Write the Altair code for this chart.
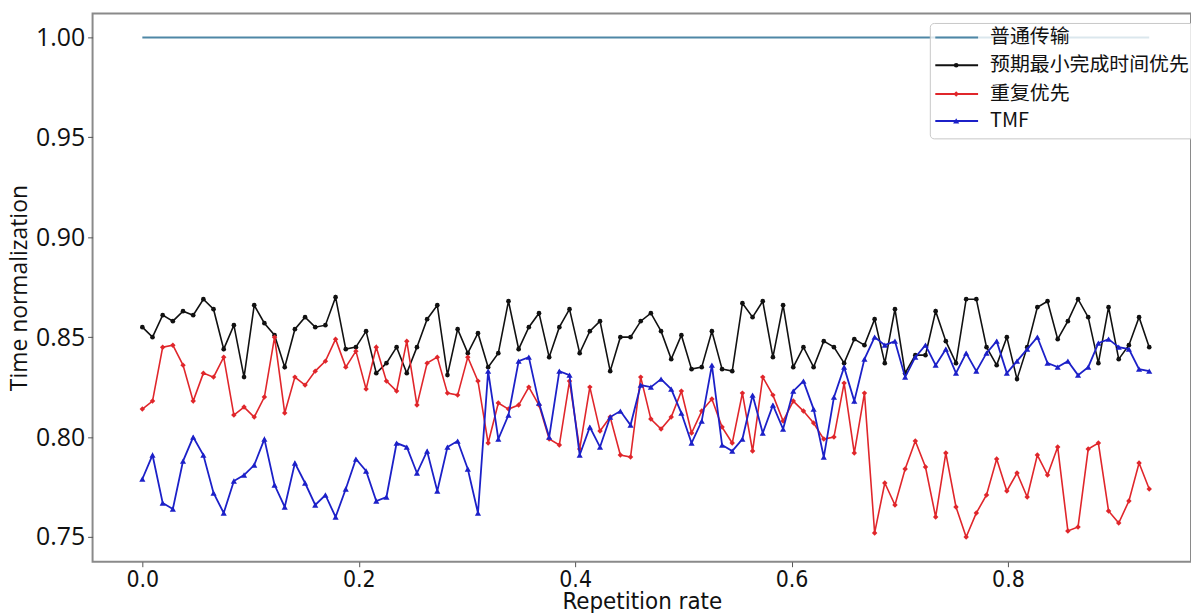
import altair as alt
import pandas as pd

# ---------------- data ----------------
series_names = ["普通传输", "预期最小完成时间优先", "重复优先", "TMF"]
series_colors = ["#4e87a6", "#111111", "#e0262b", "#1c20c8"]
series_shapes = ["circle", "circle", "diamond", "triangle-up"]
series_sizes = [0, 22, 30, 38]

x_step = 0.0094
n_points = 100

baseline = [1.0] * n_points

expected_min = [
    0.855, 0.850, 0.861, 0.858, 0.863, 0.861, 0.869, 0.864, 0.844, 0.856,
    0.830, 0.866, 0.857, 0.851, 0.835, 0.854, 0.860, 0.855, 0.856, 0.870,
    0.844, 0.845, 0.853, 0.832, 0.837, 0.845, 0.832, 0.845, 0.859, 0.866,
    0.831, 0.854, 0.842, 0.852, 0.835, 0.842, 0.868, 0.844, 0.855, 0.862,
    0.840, 0.855, 0.864, 0.842, 0.853, 0.858, 0.833, 0.850, 0.850, 0.858,
    0.862, 0.853, 0.839, 0.851, 0.834, 0.835, 0.853, 0.834, 0.833, 0.867,
    0.860, 0.868, 0.840, 0.866, 0.835, 0.845, 0.835, 0.848, 0.845, 0.837,
    0.849, 0.846, 0.859, 0.837, 0.864, 0.832, 0.841, 0.841, 0.863, 0.848,
    0.837, 0.869, 0.869, 0.845, 0.836, 0.850, 0.829, 0.845, 0.865, 0.868,
    0.849, 0.858, 0.869, 0.860, 0.837, 0.865, 0.839, 0.846, 0.860, 0.845,
]

repeat_first = [
    0.814, 0.818, 0.845, 0.846, 0.836, 0.818, 0.832, 0.830, 0.840, 0.811,
    0.815, 0.810, 0.820, 0.850, 0.812, 0.830, 0.826, 0.833, 0.838, 0.849,
    0.835, 0.843, 0.824, 0.845, 0.828, 0.823, 0.848, 0.816, 0.837, 0.840,
    0.822, 0.821, 0.840, 0.828, 0.797, 0.817, 0.814, 0.816, 0.825, 0.816,
    0.799, 0.796, 0.828, 0.794, 0.825, 0.803, 0.810, 0.791, 0.790, 0.830,
    0.809, 0.804, 0.810, 0.823, 0.802, 0.813, 0.819, 0.805, 0.797, 0.822,
    0.793, 0.830, 0.821, 0.808, 0.818, 0.813, 0.807, 0.799, 0.800, 0.827,
    0.792, 0.822, 0.752, 0.777, 0.766, 0.784, 0.798, 0.785, 0.760, 0.792,
    0.765, 0.750, 0.762, 0.771, 0.789, 0.773, 0.782, 0.770, 0.791, 0.781,
    0.795, 0.753, 0.755, 0.794, 0.797, 0.763, 0.757, 0.768, 0.787, 0.774,
]

tmf = [
    0.779, 0.791, 0.767, 0.764, 0.788, 0.800, 0.791, 0.772, 0.762, 0.778,
    0.781, 0.786, 0.799, 0.776, 0.765, 0.787, 0.777, 0.766, 0.771, 0.760,
    0.774, 0.789, 0.783, 0.768, 0.770, 0.797, 0.795, 0.782, 0.793, 0.773,
    0.795, 0.798, 0.784, 0.762, 0.833, 0.799, 0.811, 0.838, 0.840, 0.817,
    0.800, 0.833, 0.831, 0.791, 0.805, 0.795, 0.810, 0.813, 0.806, 0.826,
    0.825, 0.829, 0.824, 0.812, 0.797, 0.808, 0.836, 0.796, 0.793, 0.799,
    0.821, 0.802, 0.816, 0.804, 0.823, 0.828, 0.814, 0.790, 0.820, 0.835,
    0.818, 0.839, 0.850, 0.846, 0.848, 0.830, 0.840, 0.846, 0.836, 0.844,
    0.832, 0.842, 0.833, 0.842, 0.848, 0.832, 0.838, 0.844, 0.850, 0.837,
    0.835, 0.838, 0.831, 0.835, 0.847, 0.849, 0.845, 0.844, 0.834, 0.833,
]

x_ticks = [0.0, 0.2, 0.4, 0.6, 0.8]
y_ticks = [0.75, 0.80, 0.85, 0.90, 0.95, 1.00]

# ---------------- table ----------------
x_vals = [round(i * x_step, 4) for i in range(n_points)]
rows = []
for name, vals in zip(series_names, [baseline, expected_min, repeat_first, tmf]):
    for xv, yv in zip(x_vals, vals):
        rows.append({"x": xv, "y": yv, "series": name})
df = pd.DataFrame(rows)

W, H = 1104, 551

x_enc = alt.X(
    "x:Q",
    scale=alt.Scale(domain=[-0.046, 0.9692], nice=False, zero=False),
    axis=alt.Axis(values=x_ticks, format=".1f", title="Repetition rate"),
)
y_enc = alt.Y(
    "y:Q",
    scale=alt.Scale(domain=[0.7376, 1.012], nice=False, zero=False),
    axis=alt.Axis(values=y_ticks, format=".2f", title="Time normalization"),
)
color_enc = alt.Color(
    "series:N", scale=alt.Scale(domain=series_names, range=series_colors), legend=None
)
shape_enc = alt.Shape(
    "series:N", scale=alt.Scale(domain=series_names, range=series_shapes), legend=None
)

base = alt.Chart(df)
widths = [2, 1.6, 1.6, 1.8]
data_layers = []
for name, sw, sz in zip(series_names, widths, series_sizes):
    sub = base.transform_filter(alt.datum.series == name)
    data_layers.append(
        sub.mark_line(strokeWidth=sw).encode(x=x_enc, y=y_enc, color=color_enc)
    )
    if sz > 0:
        data_layers.append(
            sub.mark_point(filled=True, size=sz, opacity=1).encode(
                x=x_enc, y=y_enc, color=color_enc, shape=shape_enc
            )
        )
data_chart = alt.layer(*data_layers)

# ---------------- legend ----------------
legend_df = pd.DataFrame({"series": series_names, "ly": [24, 52, 81, 108]})
ly_enc = alt.Y(
    "ly:Q", scale=alt.Scale(domain=[0, H], reverse=True, nice=False, zero=False), axis=None
)
leg_base = alt.Chart(legend_df)
box = alt.Chart(pd.DataFrame({"k": [0]})).mark_rect(
    fill="white", fillOpacity=0.8, stroke="#c8c8c8", strokeWidth=1, cornerRadius=4
).encode(x=alt.value(842), x2=alt.value(1125), y=alt.value(10), y2=alt.value(126))
leg_lines = leg_base.mark_rule(strokeWidth=2).encode(
    x=alt.value(847), x2=alt.value(890), y=ly_enc, color=color_enc
)
leg_layers = [box, leg_lines]
for name, sz in zip(series_names, series_sizes):
    if sz > 0:
        leg_layers.append(
            leg_base.transform_filter(alt.datum.series == name)
            .mark_point(filled=True, size=sz, opacity=1)
            .encode(x=alt.value(868), y=ly_enc, color=color_enc, shape=shape_enc)
        )
leg_layers.append(
    leg_base.mark_text(
        align="left", baseline="middle", fontSize=20, font="Noto Sans CJK SC", color="#111111"
    ).encode(x=alt.value(902), y=ly_enc, text="series:N")
)
legend_chart = alt.layer(*leg_layers)

chart = (
    alt.layer(data_chart, legend_chart)
    .resolve_scale(y="independent")
    .properties(
        width=W,
        height=H,
        autosize=alt.AutoSizeParams(type="none"),
        padding={"left": 85, "top": 4, "right": 0, "bottom": 50},
    )
    .configure_view(stroke="#8a8a8a", strokeWidth=2)
    .configure_axis(grid=False, domain=False, tickColor="#555555", tickSize=5,
                    labelColor="#111111", titleColor="#111111", titleFontWeight="normal")
    .configure_axisY(labelFont="Open Sans", labelFontSize=25, labelPadding=3,
                     titleFont="Open Sans", titleFontSize=23, titlePadding=4)
    .configure_axisX(labelFont="DejaVu Sans Condensed, Liberation Sans Narrow, DejaVu Sans",
                     labelFontSize=23, labelPadding=2,
                     titleFont="DejaVu Sans Condensed, Liberation Sans Narrow, DejaVu Sans",
                     titleFontSize=24, titlePadding=-2)
)

chart.save("out.html", embed_options={"renderer": "svg", "actions": False})
